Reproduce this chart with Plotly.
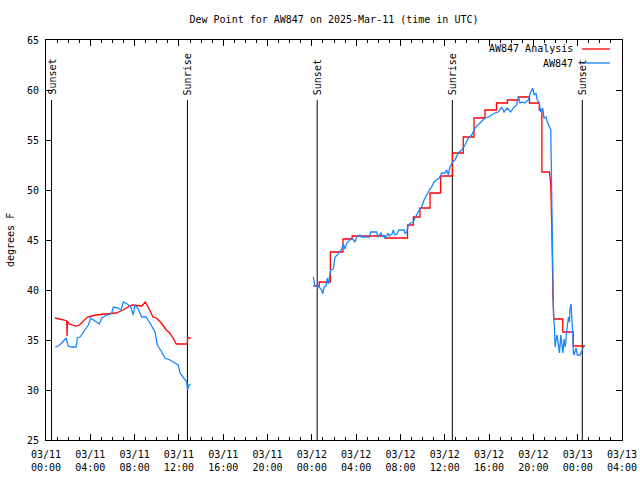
import pandas as pd
import plotly.graph_objects as go

BASE = "2025-03-11 00:00"

# Analysis (red): hours since 2025-03-11 00:00 UTC, dew point (F); None = gap
analysis_hours = [0.81, 1.35, 1.65, 1.87, 1.90, 1.93, 2.10, 2.71, 3.01, 3.31, 3.76, 4.51, 5.72, 6.32, 6.77,
                  7.13, 7.78, 8.67, 8.96, 9.36, 9.66, 9.96, 10.41, 10.86, 11.17, 11.47, 11.76, 12.76, 12.79, 13.06,
                  None,
                  24.13, 24.67, 24.67, 25.67, 25.67, 26.81, 26.81, 27.63, 27.63, 30.60, 30.60, 32.64, 32.64,
                  33.16, 33.16, 33.76, 33.76, 34.67, 34.67, 35.63, 35.63, 36.70, 36.70, 37.67, 37.67, 38.64,
                  38.64, 39.63, 39.63, 40.67, 40.67, 41.65, 41.65, 42.66, 42.66, 43.65, 43.65, 44.53, 44.53,
                  44.77, 44.77, 45.45, 45.57, 45.69, 45.69, 45.75, 45.75, 45.85, 46.65, 46.65, 47.60, 47.60, 48.65]
analysis_vals = [37.2, 37.1, 37.0, 36.9, 35.4, 36.9, 36.6, 36.4, 36.5, 36.8, 37.3, 37.5, 37.6, 37.7, 37.9,
                 38.1, 38.5, 38.4, 38.8, 38.0, 37.3, 37.2, 36.7, 36.0, 35.7, 35.2, 34.6, 34.6, 35.2, 35.2,
                 None,
                 40.4, 40.4, 40.8, 40.8, 43.8, 43.8, 45.1, 45.1, 45.4, 45.4, 45.2, 45.2, 46.5,
                 46.5, 47.3, 47.3, 48.2, 48.2, 49.7, 49.7, 51.4, 51.4, 53.7, 53.7, 55.3, 55.3,
                 57.2, 57.2, 58.0, 58.0, 58.7, 58.7, 59.0, 59.0, 59.3, 59.3, 58.7, 58.7, 58.0,
                 58.0, 51.8, 51.8, 50.5, 46.8, 44.7, 40.6, 40.0, 37.1, 37.1, 35.8, 35.8, 34.4, 34.4]

# Station observations (blue)
obs_hours = [0.81, 1.11, 1.42, 1.81, 2.01, 2.32, 2.71, 2.83, 3.07, 3.52, 3.82, 4.04, 4.42, 4.81, 5.03,
             5.33, 5.78, 5.93, 6.08, 6.53, 6.77, 6.98, 7.34, 7.65, 7.88, 8.03, 8.28, 8.64, 9.03, 9.39,
             9.84, 10.05, 10.45, 10.74, 11.19, 11.65, 11.94, 12.10, 12.40, 12.70, 12.79, 12.91, 13.06,
             None,
             24.13, 24.19, 24.28, 24.58, 24.74, 24.89, 24.98, 25.10, 25.28, 25.40, 25.49, 25.58, 25.70,
             25.94, 26.09, 26.30, 26.48, 26.70, 26.84, 26.99, 27.15, 27.44, 27.69, 27.90, 28.05, 28.35,
             28.50, 29.19, 29.31, 29.86, 29.95, 30.09, 30.24, 30.40, 30.51, 30.60, 30.76, 30.90, 30.99,
             31.12, 31.24, 31.35, 31.51, 31.66, 31.87, 32.32, 32.44, 32.56, 32.71, 32.93, 33.16, 33.31,
             33.52, 33.70, 33.92, 34.13, 34.37, 34.60, 34.82, 35.03, 35.27, 35.51, 35.72, 36.02, 36.17,
             36.32, 36.47, 36.72, 36.92, 37.22, 37.53, 37.83, 38.13, 38.43, 38.73, 39.03, 39.33, 39.63,
             39.93, 40.24, 40.53, 40.83, 41.14, 41.35, 41.65, 41.95, 42.25, 42.49, 42.64, 42.79, 43.04,
             43.24, 43.54, 43.76, 43.94, 44.06, 44.24, 44.35, 44.53, 44.66, 44.84, 44.96, 45.14, 45.26,
             45.44, 45.57, 45.81, 45.90, 45.96, 46.12, 46.17, 46.26, 46.35, 46.48, 46.57, 46.66, 46.78,
             46.87, 47.02, 47.17, 47.26, 47.31, 47.40, 47.49, 47.56, 47.61, 47.67, 47.85, 47.97, 48.21,
             48.45, 48.60]
obs_vals = [34.3, 34.4, 34.7, 35.2, 34.4, 34.3, 34.3, 35.2, 35.3, 36.0, 36.5, 37.2, 36.9, 36.6, 37.2,
            37.4, 37.6, 37.7, 38.3, 38.2, 38.0, 38.8, 38.6, 38.3, 37.5, 38.5, 38.2, 37.3, 37.3, 36.7,
            35.8, 34.5, 33.8, 33.2, 33.0, 32.7, 32.5, 31.7, 31.3, 30.8, 30.0, 30.5, 30.6,
            None,
            41.3, 40.8, 40.4, 40.4, 40.2, 40.0, 39.6, 40.3, 40.4, 41.2, 40.6, 41.3, 42.0,
            42.1, 43.3, 43.5, 43.8, 44.1, 44.6, 44.1, 44.7, 45.0, 45.1, 44.8, 45.3, 45.5,
            45.3, 45.3, 45.8, 45.8, 45.3, 45.5, 45.7, 45.3, 45.5, 45.2, 45.4, 45.7, 45.4,
            45.5, 45.6, 46.0, 45.5, 45.6, 46.0, 46.0, 45.6, 45.8, 46.5, 46.7, 46.8, 47.2,
            47.7, 48.0, 48.3, 49.0, 49.5, 50.0, 50.3, 50.8, 51.0, 51.2, 51.7, 51.7, 52.0,
            51.5, 52.3, 52.8, 53.0, 53.7, 54.0, 54.5, 55.2, 55.5, 56.2, 56.5, 56.8, 57.2,
            57.3, 57.5, 57.7, 57.8, 58.3, 57.8, 58.2, 57.8, 58.3, 58.5, 59.3, 58.7, 58.8,
            58.7, 59.0, 59.8, 60.2, 59.5, 59.7, 59.0, 58.7, 57.8, 58.2, 57.2, 57.3, 56.8,
            56.3, 56.0, 37.6, 36.3, 34.3, 35.5, 35.3, 34.7, 33.7, 35.5, 34.3, 33.7, 35.1,
            34.3, 36.0, 37.3, 36.8, 38.2, 38.6, 37.3, 35.5, 33.7, 33.5, 34.2, 33.5, 33.5,
            34.2, 34.5]

# Sun events (UTC)
sun_times = ["2025-03-11 00:30", "2025-03-11 12:46", "2025-03-12 00:29", "2025-03-12 12:41", "2025-03-13 00:25"]
sun_labels = ["Sunset", "Sunrise", "Sunset", "Sunrise", "Sunset"]
sun_top = 59.0

series_names = ["AW847 Analysis", "AW847"]
series_colors = ["#ff0000", "#1a86ff"]

FONT = "DejaVu Sans Mono"


def to_times(hours):
    base = pd.Timestamp(BASE)
    return [None if h is None else base + pd.Timedelta(hours=h) for h in hours]


fig = go.Figure()
fig.add_trace(go.Scatter(x=to_times(analysis_hours), y=analysis_vals, mode="lines",
                         name=series_names[0], line=dict(color=series_colors[0], width=1.3),
                         connectgaps=False, showlegend=False))
fig.add_trace(go.Scatter(x=to_times(obs_hours), y=obs_vals, mode="lines",
                         name=series_names[1], line=dict(color=series_colors[1], width=1.3),
                         connectgaps=False, showlegend=False))

for t, lab in zip(sun_times, sun_labels):
    fig.add_shape(type="line", x0=t, x1=t, y0=25, y1=sun_top, xref="x", yref="y",
                  line=dict(color="black", width=1), layer="below")
    fig.add_annotation(x=t, y=sun_top, xref="x", yref="y", text=lab, textangle=-90,
                       showarrow=False, xanchor="center", yanchor="bottom", yshift=3,
                       font=dict(family=FONT, size=10, color="black"))

# legend (gnuplot style: right-aligned text, sample on the right)
for i, (nm, col) in enumerate(zip(series_names, series_colors)):
    yy = 1 - (9 + 14 * i) / 400
    fig.add_annotation(x=(575 - 46) / 576, y=yy, xref="paper", yref="paper", text=nm,
                       showarrow=False, xanchor="right", yanchor="middle",
                       font=dict(family=FONT, size=10, color="black"))
    fig.add_shape(type="line", xref="paper", yref="paper", x0=(582 - 46) / 576, x1=(610 - 46) / 576,
                  y0=yy, y1=yy, line=dict(color=col, width=1.3))

# y-axis title
fig.add_annotation(x=-36 / 576, y=0.5, xref="paper", yref="paper", text="degrees F", textangle=-90,
                   showarrow=False, xanchor="center", yanchor="middle",
                   font=dict(family=FONT, size=10, color="black"))

fig.update_layout(
    width=640, height=480,
    margin=dict(l=46, r=18, t=40, b=40),
    paper_bgcolor="white", plot_bgcolor="white",
    font=dict(family=FONT, size=10, color="black"),
    title=dict(text="Dew Point for AW847 on 2025-Mar-11 (time in UTC)", x=0.5, xref="paper",
               y=1 - 19 / 480, yanchor="middle", yref="container",
               font=dict(family=FONT, size=10, color="black")),
)
fig.update_xaxes(
    type="date", range=["2025-03-11 00:00", "2025-03-13 04:00"],
    tick0="2025-03-11 00:00", dtick=4 * 3600 * 1000, tickformat="%m/%d<br>%H:%M",
    ticks="inside", ticklen=6, tickcolor="black", showline=True, linecolor="black", linewidth=1,
    mirror="allticks", showgrid=False, zeroline=False, automargin=False, ticklabelstandoff=5,
    minor=dict(dtick=3600 * 1000, ticks="inside", ticklen=3, tickcolor="black", showgrid=False),
    tickfont=dict(family=FONT, size=10, color="black"),
)
fig.update_yaxes(
    range=[25, 65], dtick=5, tick0=25,
    ticks="inside", ticklen=6, tickcolor="black", showline=True, linecolor="black", linewidth=1,
    mirror="allticks", showgrid=False, zeroline=False, automargin=False, ticklabelstandoff=4,
    tickfont=dict(family=FONT, size=10, color="black"),
)

fig.write_html("out.html", config={"displayModeBar": False},
               post_script="document.body.style.margin='0';")
